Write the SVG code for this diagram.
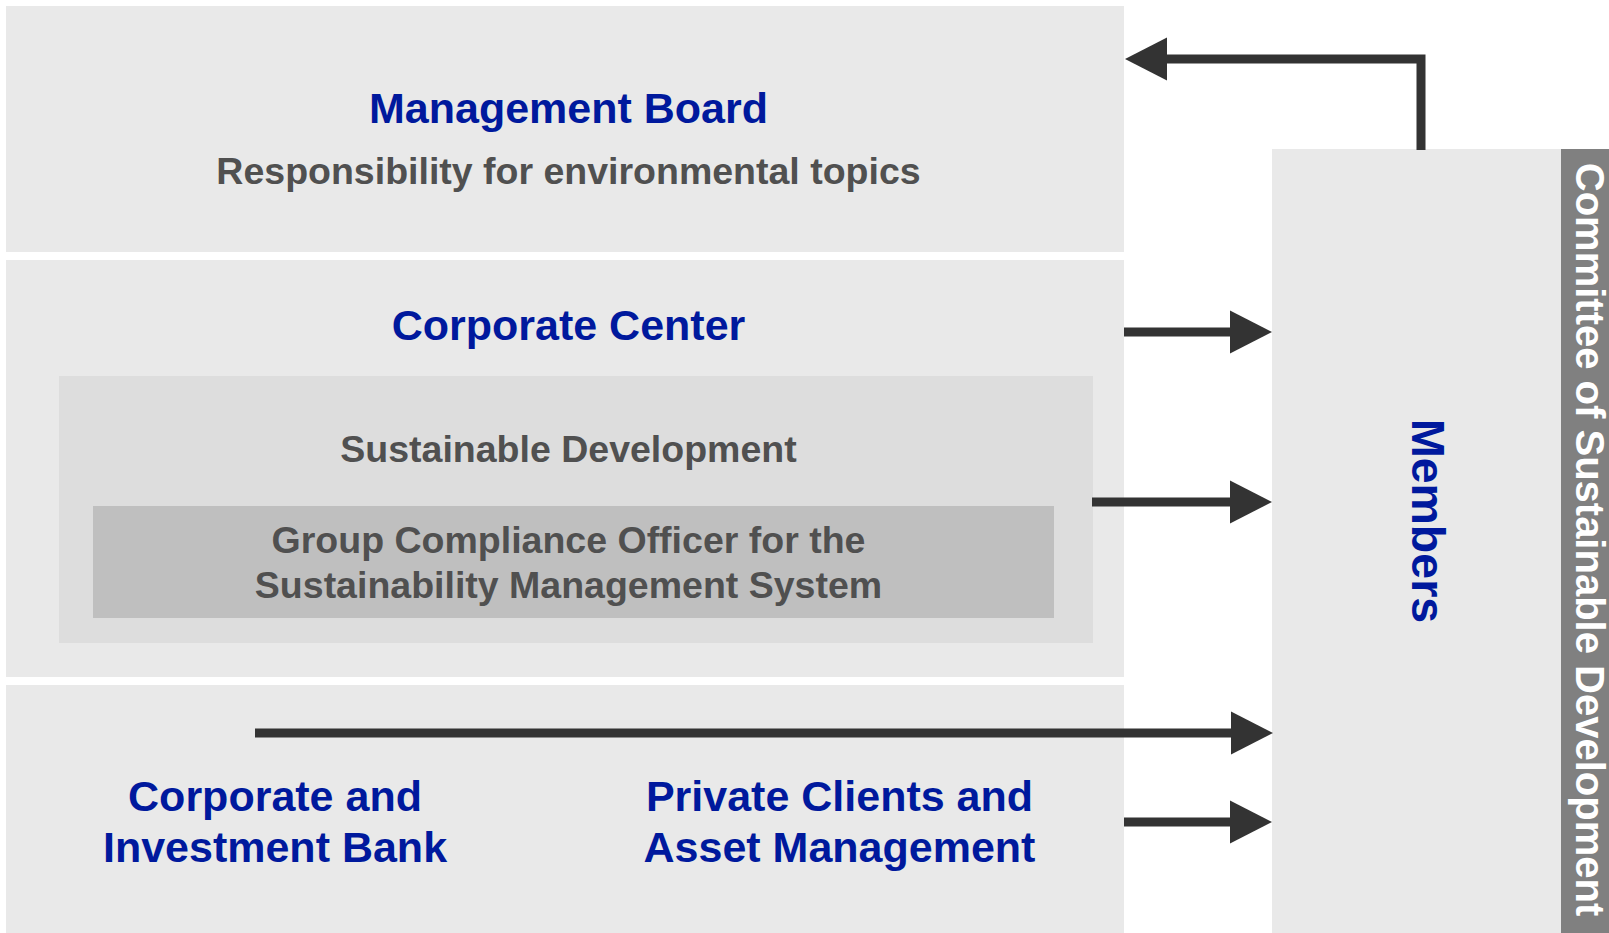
<svg xmlns="http://www.w3.org/2000/svg" width="1609" height="933" viewBox="0 0 1609 933">
  <defs>
    <marker id="ah" markerUnits="userSpaceOnUse" markerWidth="44" markerHeight="44" refX="1" refY="21.5" orient="auto" overflow="visible">
      <path d="M0,0 L42,21.5 L0,43 Z" fill="#333333"/>
    </marker>
    <style>
      .box { fill: #E9E9E9; }
      .h { font-family: "Liberation Sans", Arial, sans-serif; font-weight: bold; fill: #00199D; text-anchor: middle; }
      .g { font-family: "Liberation Sans", Arial, sans-serif; font-weight: bold; fill: #505050; text-anchor: middle; }
      .conn { fill: none; stroke: #333333; stroke-width: 9; stroke-linejoin: miter; marker-end: url(#ah); }
    </style>
  </defs>
  <rect width="1609" height="933" fill="#FFFFFF"/>

  <g id="management-board">
    <rect class="box" x="6" y="6" width="1118" height="246"/>
    <text class="h" x="568.5" y="123" font-size="43">Management Board</text>
    <text class="g" x="568.5" y="184" font-size="37.5">Responsibility for environmental topics</text>
  </g>

  <g id="corporate-center">
    <rect class="box" x="6" y="260" width="1118" height="417"/>
    <text class="h" x="568.5" y="340" font-size="43">Corporate Center</text>
  </g>

  <g id="sustainable-development">
    <rect x="59" y="376" width="1034" height="267" fill="#DDDDDD"/>
    <text class="g" x="568.5" y="462" font-size="37.5">Sustainable Development</text>
  </g>

  <g id="group-compliance-officer">
    <rect x="93" y="506" width="961" height="112" fill="#BFBFBF"/>
    <text class="g" x="568.5" y="553" font-size="37.5">Group Compliance Officer for the</text>
    <text class="g" x="568.5" y="598" font-size="37.5">Sustainability Management System</text>
  </g>

  <g id="divisions">
    <rect class="box" x="6" y="685" width="1118" height="248"/>
  </g>

  <g id="corporate-investment-bank">
    <text class="h" x="275" y="810.5" font-size="43">Corporate and</text>
    <text class="h" x="275" y="861.5" font-size="43">Investment Bank</text>
  </g>

  <g id="private-clients-asset-management">
    <text class="h" x="839.5" y="810.5" font-size="43">Private Clients and</text>
    <text class="h" x="839.5" y="861.5" font-size="43">Asset Management</text>
  </g>

  <g id="members">
    <rect class="box" x="1272" y="149" width="289" height="784"/>
    <text class="h" transform="translate(1412,521) rotate(90)" x="0" y="0" font-size="46.5">Members</text>
  </g>

  <g id="committee">
    <rect x="1561" y="149" width="48" height="784" fill="#808080"/>
    <text transform="translate(1576,539.5) rotate(90)" x="0" y="0" font-size="40" font-family="Liberation Sans, Arial, sans-serif" font-weight="bold" fill="#FFFFFF" text-anchor="middle">Committee of Sustainable Development</text>
  </g>

  <g id="connectors">
    <path class="conn" d="M1421,150 L1421,59 L1166,59"/>
    <path class="conn" d="M1124,332 L1231,332"/>
    <path class="conn" d="M1092,502 L1231,502"/>
    <path class="conn" d="M255,733 L1232,733"/>
    <path class="conn" d="M1124,822 L1231,822"/>
  </g>
</svg>
